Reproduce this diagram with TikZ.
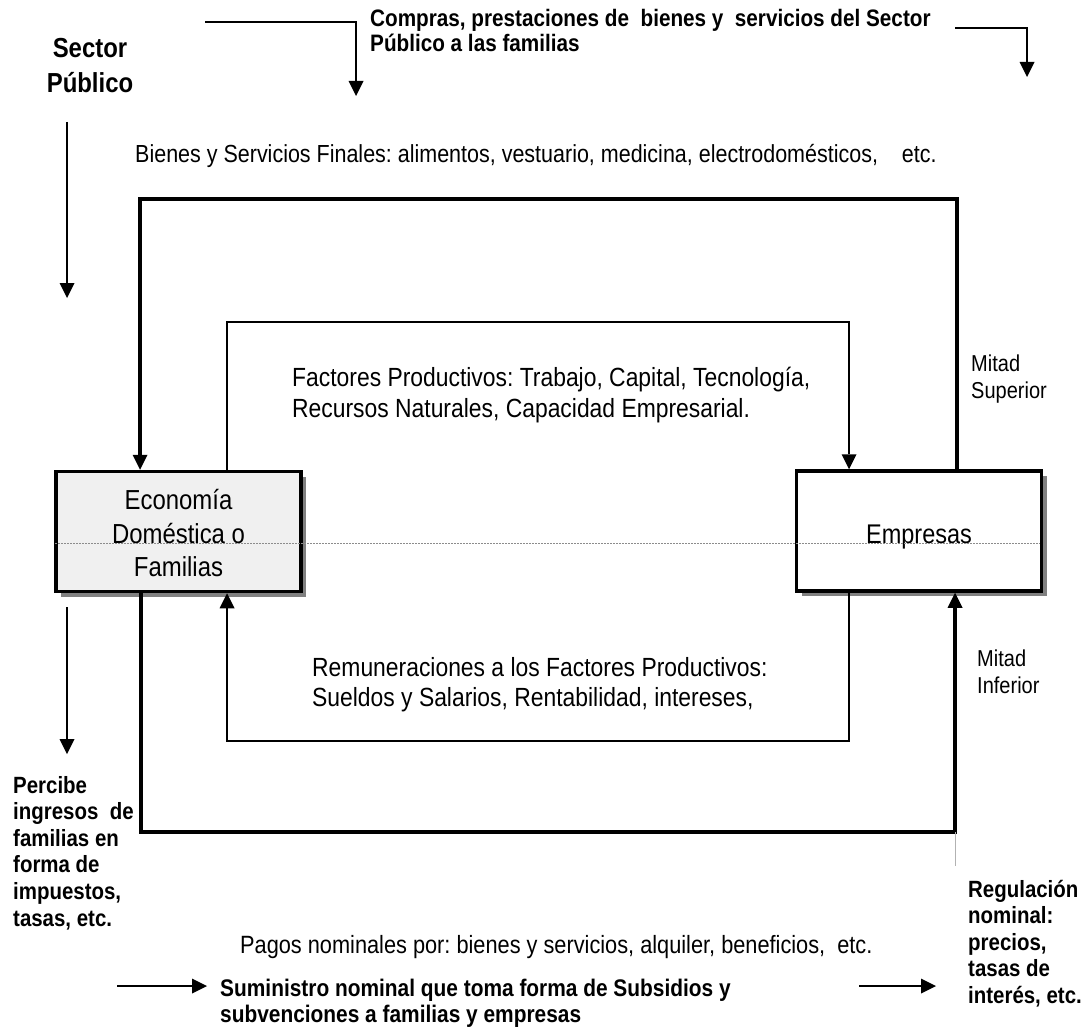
\documentclass[tikz,border=0pt]{standalone}
\usepackage{fontspec}
\setmainfont{Liberation Sans}[FakeStretch=0.87]
\usetikzlibrary{arrows.meta,shadows}
\frenchspacing

% stacked lines whose baseline is the first line
\newcommand{\linesL}[1]{\begin{tabular}[t]{@{}l@{}}#1\end{tabular}}
\newcommand{\linesC}[1]{\begin{tabular}[t]{@{}c@{}}#1\end{tabular}}
% lower the contents of a box without changing its size
\newcommand{\lowered}[2]{\raisebox{-#1}[\height][\depth]{#2}}

\begin{document}
\begin{tikzpicture}[x=1pt,y=-1pt,
  box/.style={draw, line width=3.5pt, minimum width=245pt, minimum height=120pt,
    inner sep=0pt,
    general shadow={fill=black!50, shadow xshift=5pt, shadow yshift=-5pt}},
  tip/.style={-{Triangle[length=15pt,width=15pt,line width=0pt]}},
  thickflow/.style={tip, line width=3.5pt},
  thinflow/.style={tip, line width=1.6pt},
  govflow/.style={tip, line width=2pt},
  lbl/.style={anchor=base west, inner sep=0pt, font=\fontsize{26}{30.5}\selectfont},
  blbl/.style={anchor=base west, inner sep=0pt, font=\bfseries\fontsize{23.5}{26.6}\selectfont},
]
\path[use as bounding box, fill=white] (0,0) rectangle (1090,1027);

% the two agents
\node[box, fill=black!6] (fam) at (178.5,531.5)
  {\fontsize{27.5}{33.5}\selectfont\lowered{5pt}{\linesC{Economía\\Doméstica o\\Familias}}};
\node[box, fill=white] (emp) at (919,531)
  {\fontsize{27}{30}\selectfont\lowered{6pt}{Empresas}};

% dividing line between the upper and lower half
\coordinate (da) at (55,543);
\coordinate (db) at (1040,543);
\draw[black!45, line width=1pt, dash pattern=on 1.5pt off 1.5pt] (da) -- (db);

% real flows (thin) and money flows (thick)
\coordinate (otr) at (957,199);
\coordinate (otl) at (140,199);
\draw[thickflow] (emp.north -| otr) -- (otr) -- (otl) -- (fam.north -| otl);
\coordinate (itl) at (227,322);
\coordinate (itr) at (849,322);
\draw[thinflow] (fam.north -| itl) -- (itl) -- (itr) -- (emp.north -| itr);
\coordinate (obl) at (141,832);
\coordinate (obr) at (955,832);
\draw[thickflow] (fam.south -| obl) -- (obl) -- (obr) -- (emp.south -| obr);
\coordinate (ibr) at (849,741);
\coordinate (ibl) at (227,741);
\draw[thinflow] (emp.south -| ibr) -- (ibr) -- (ibl) -- (fam.south -| ibl);
\coordinate (gx) at (955,866);
\draw[black!30, line width=0.8pt] (obr) -- (gx);

% public sector flows
\coordinate (g1a) at (205,22);
\coordinate (g1b) at (356,22);
\coordinate (g1c) at (356,96);
\draw[govflow] (g1a) -- (g1b) -- (g1c);
\coordinate (g2a) at (955,28);
\coordinate (g2b) at (1027,28);
\coordinate (g2c) at (1027,77);
\draw[govflow] (g2a) -- (g2b) -- (g2c);
\coordinate (g3a) at (67,122);
\coordinate (g3b) at (67,298);
\draw[govflow] (g3a) -- (g3b);
\coordinate (g4a) at (67,607);
\coordinate (g4b) at (67,754);
\draw[govflow] (g4a) -- (g4b);
\coordinate (g5a) at (117,986);
\coordinate (g5b) at (207,986);
\draw[govflow] (g5a) -- (g5b);
\coordinate (g6a) at (859,986);
\coordinate (g6b) at (936,986);
\draw[govflow] (g6a) -- (g6b);

% labels
\node[anchor=base, inner sep=0pt, font=\bfseries\fontsize{27.5}{35}\selectfont] (sector)
  at (90,58) {\linesC{Sector\\Público}};
\node[blbl, font=\bfseries\fontsize{23.8}{23.5}\selectfont] (compras) at (370,27)
  {\linesL{Compras, prestaciones de\ \ bienes y\ \ servicios del Sector\\Público a las familias}};
\node[lbl, font=\fontsize{24.7}{30}\selectfont] (bienes) at (135,163)
  {Bienes y Servicios Finales: alimentos, vestuario, medicina, electrodomésticos,\ \ \ \ etc.};
\node[lbl, font=\fontsize{26.3}{31}\selectfont] (factores) at (292,386)
  {\linesL{Factores Productivos: Trabajo, Capital, Tecnología,\\Recursos Naturales, Capacidad Empresarial.}};
\node[lbl, font=\fontsize{26.3}{30}\selectfont] (remun) at (312,676)
  {\linesL{Remuneraciones a los Factores Productivos:\\Sueldos y Salarios, Rentabilidad, intereses,}};
\node[lbl, font=\fontsize{25}{30}\selectfont] (pagos) at (240,953)
  {Pagos nominales por: bienes y servicios, alquiler, beneficios,\ \ etc.};
\node[lbl, font=\fontsize{23}{27}\selectfont] (msup) at (971,371) {\linesL{Mitad\\Superior}};
\node[lbl, font=\fontsize{23}{27}\selectfont] (minf) at (977,666) {\linesL{Mitad\\Inferior}};
\node[blbl] (percibe) at (13,793)
  {\linesL{Percibe\\ingresos\ \ de\\familias en\\forma de\\impuestos,\\tasas, etc.}};
\node[blbl] (regul) at (968,897)
  {\linesL{Regulación\\nominal:\\precios,\\tasas de\\interés, etc.}};
\node[blbl, font=\bfseries\fontsize{24}{26}\selectfont] (sumin) at (220,996)
  {\linesL{Suministro nominal que toma forma de Subsidios y\\subvenciones a familias y empresas}};
\end{tikzpicture}
\end{document}
